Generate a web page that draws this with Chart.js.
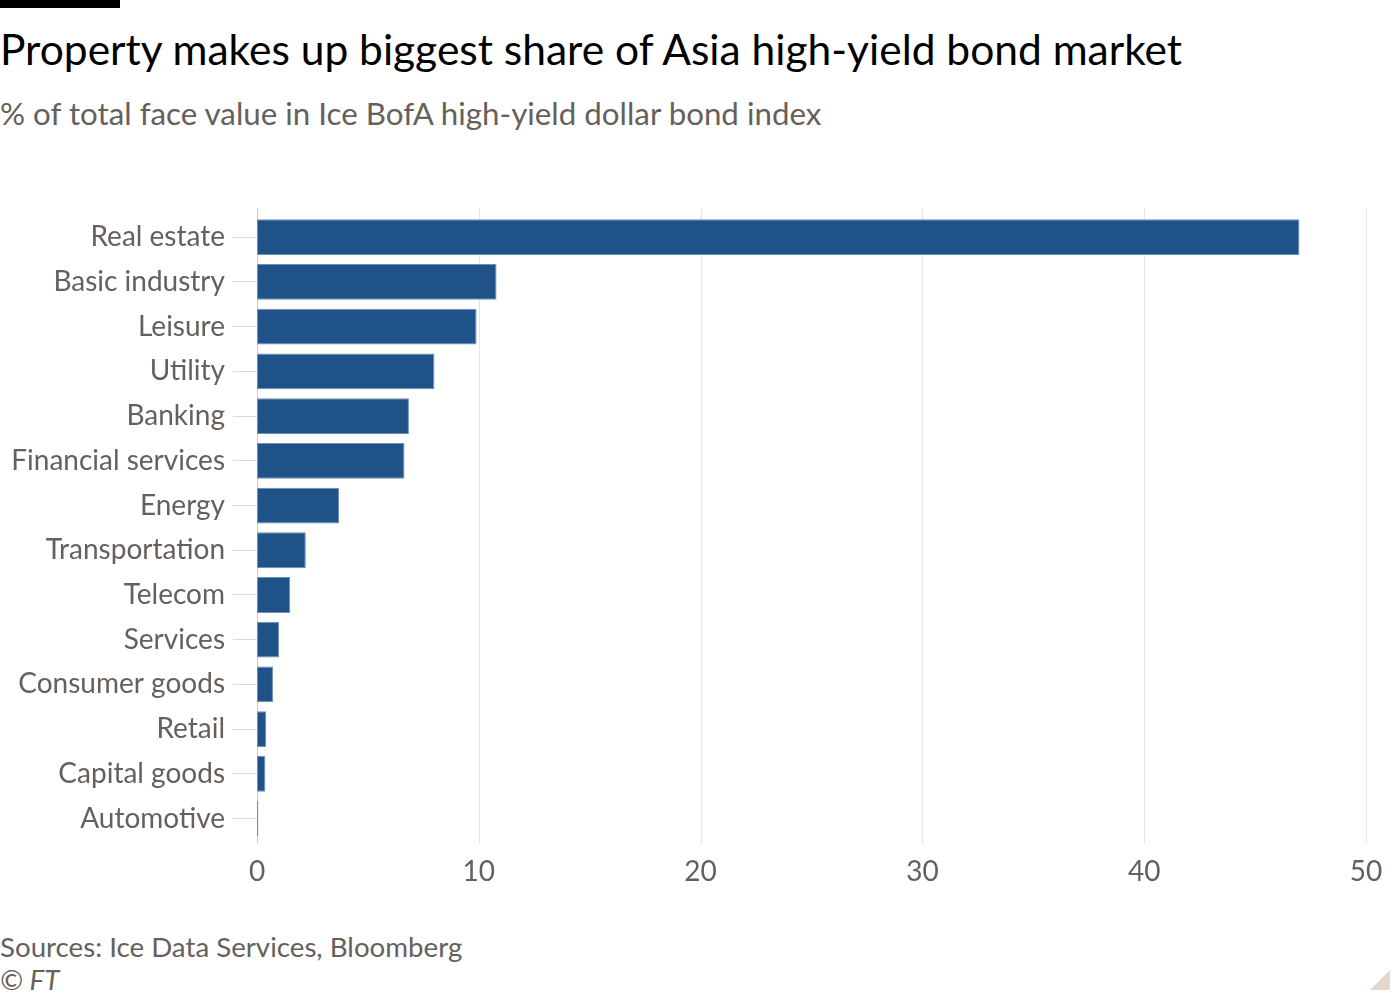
<!DOCTYPE html>
<html>
<head>
<meta charset="utf-8">
<script src="https://cdn.jsdelivr.net/npm/chart.js@4"></script>
<style>
  body { margin: 0; background: #fff; font-family: Lato, sans-serif; }
  #page { position: relative; width: 1400px; height: 1000px; overflow: hidden; }
  .bar-top { position: absolute; left: 0; top: 0; width: 120px; height: 8px; background: #000; }
  .title { position: absolute; left: 0; top: 23px; font-size: 42.5px; color: #000; white-space: nowrap; }
  .subtitle { position: absolute; left: 0; top: 94px; font-size: 31.3px; color: #66605c; white-space: nowrap; }
  .source { position: absolute; left: 0; top: 930px; font-size: 27.7px; color: #66605c; white-space: nowrap; }
  .ft { position: absolute; left: 0; top: 963px; font-size: 27.7px; line-height: 34px; color: #66605c; font-style: italic; }
  .corner { position: absolute; right: 10px; bottom: 10px; width: 0; height: 0;
    border-left: 20px solid transparent; border-bottom: 20px solid #e3d6ca; }
  #wrap { position: absolute; left: 0; top: 190px; width: 1400px; height: 707px; }
</style>
</head>
<body>
<div id="page">
  <div class="bar-top"></div>
  <div class="title">Property makes up biggest share of Asia high-yield bond market</div>
  <div class="subtitle">% of total face value in Ice BofA high-yield dollar bond index</div>
  <div id="wrap"><canvas id="barChart"></canvas></div>
  <div class="source">Sources: Ice Data Services, Bloomberg</div>
  <div class="ft">© FT</div>
  <div class="corner"></div>
</div>
<script>
// Sectors and their share (%) of the index
const sectors = [
  "Real estate", "Basic industry", "Leisure", "Utility", "Banking",
  "Financial services", "Energy", "Transportation", "Telecom", "Services",
  "Consumer goods", "Retail", "Capital goods", "Automotive"
];
const shares = [47.0, 10.8, 9.9, 8.0, 6.85, 6.65, 3.7, 2.2, 1.5, 1.0, 0.72, 0.42, 0.38, 0.06];
const xTicks = [0, 10, 20, 30, 40, 50];

// vertical gridlines run a little past the bars, like the original
const gridPlugin = {
  id: "ftGrid",
  beforeDatasetsDraw(chart) {
    const ctx = chart.ctx;
    const x = chart.scales.x;
    const area = chart.chartArea;
    ctx.save();
    ctx.lineWidth = 1;
    xTicks.forEach((v) => {
      const px = Math.round(x.getPixelForValue(v)) + 0.5;
      ctx.strokeStyle = v === 0 ? "#d9cbbd" : "#ebe5df";
      ctx.beginPath();
      ctx.moveTo(px, area.top - 7);
      ctx.lineTo(px, area.bottom + 3);
      ctx.stroke();
    });
    ctx.restore();
  },
};

const ctx = document.getElementById("barChart").getContext("2d");

new Chart(ctx, {
  type: "bar",
  data: {
    labels: sectors,
    datasets: [
      {
        data: shares,
        backgroundColor: "#1f5289",
        borderColor: "#6d8fb8",
        borderWidth: 1,
        borderSkipped: false,
        barPercentage: 0.8,
        categoryPercentage: 1.0,
      },
    ],
  },
  options: {
    indexAxis: "y",
    responsive: true,
    maintainAspectRatio: false,
    animation: false,
    layout: { padding: { top: 22, right: 34, left: 0, bottom: 0 } },
    plugins: {
      legend: { display: false },
      tooltip: { enabled: false },
    },
    scales: {
      x: {
        min: 0,
        max: 50,
        afterBuildTicks: (scale) => {
          scale.ticks = xTicks.map((v) => ({ value: v }));
        },
        afterFit: (scale) => {
          scale.height = 56;
        },
        grid: { display: false },
        border: { display: false },
        ticks: {
          color: "#66605c",
          padding: 6,
          font: { family: "Lato", size: 28 },
        },
      },
      y: {
        afterFit: (scale) => {
          scale.width = 257;
        },
        grid: {
          offset: false,
          drawOnChartArea: false,
          drawTicks: true,
          tickLength: 24,
          color: "#e3d9d0",
        },
        border: { display: false },
        ticks: {
          color: "#66605c",
          padding: 8,
          font: { family: "Lato", size: 28 },
        },
      },
    },
  },
  plugins: [gridPlugin],
});
</script>
</body>
</html>
